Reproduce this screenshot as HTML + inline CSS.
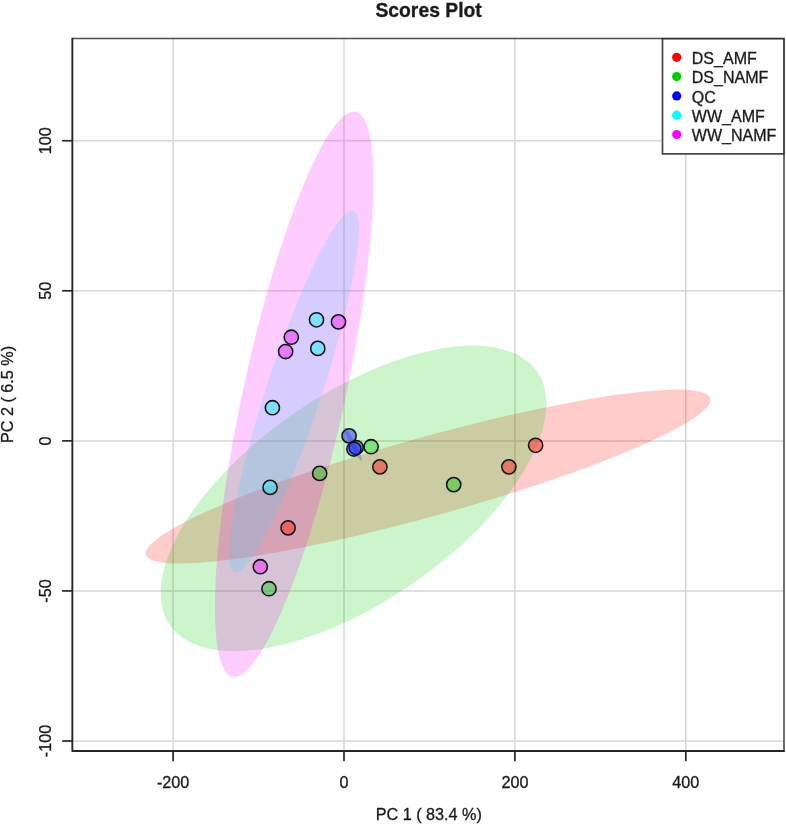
<!DOCTYPE html>
<html><head><meta charset="utf-8"><title>Scores Plot</title>
<style>html,body{margin:0;padding:0;background:#fff;}svg{display:block;}text{font-family:"Liberation Sans",sans-serif;fill:#1a1a1a;stroke:#1a1a1a;stroke-width:0.3px;}svg{will-change:transform;}</style></head><body>
<svg width="786" height="826" viewBox="0 0 786 826">
<rect x="0" y="0" width="786" height="826" fill="#ffffff"/>
<g stroke="#d6d6d6" stroke-width="1.5" fill="none">
<line x1="173.1" y1="38.0" x2="173.1" y2="751.0"/>
<line x1="344.0" y1="38.0" x2="344.0" y2="751.0"/>
<line x1="514.9" y1="38.0" x2="514.9" y2="751.0"/>
<line x1="685.8" y1="38.0" x2="685.8" y2="751.0"/>
<line x1="72.35" y1="140.75" x2="784.0" y2="140.75"/>
<line x1="72.35" y1="290.8" x2="784.0" y2="290.8"/>
<line x1="72.35" y1="440.88" x2="784.0" y2="440.88"/>
<line x1="72.35" y1="590.93" x2="784.0" y2="590.93"/>
<line x1="72.35" y1="741.0" x2="784.0" y2="741.0"/>
</g>
<g stroke="none" fill-opacity="0.2">
<ellipse cx="428.20" cy="476.60" rx="292.73" ry="39.61" fill="#ff0000" transform="rotate(164.51 428.20 476.60)"/>
<ellipse cx="353.50" cy="498.40" rx="223.12" ry="103.81" fill="#00cd00" transform="rotate(145.41 353.50 498.40)"/>
<ellipse cx="353.00" cy="444.30" rx="18.50" ry="2.60" fill="#0000ff" transform="rotate(62.40 353.00 444.30)"/>
<ellipse cx="293.95" cy="391.35" rx="190.24" ry="27.50" fill="#00ffff" transform="rotate(108.18 293.95 391.35)"/>
<ellipse cx="294.15" cy="394.30" rx="289.05" ry="50.90" fill="#ff00ff" transform="rotate(102.33 294.15 394.30)"/>
</g>
<g stroke="#111" stroke-width="1.55" fill-opacity="0.4">
<circle cx="379.9" cy="466.9" r="7.1" fill="#ff0000"/>
<circle cx="508.9" cy="466.85" r="7.1" fill="#ff0000"/>
<circle cx="535.6" cy="445.3" r="7.1" fill="#ff0000"/>
<circle cx="288.1" cy="527.9" r="7.1" fill="#ff0000"/>
<circle cx="371.1" cy="446.7" r="7.1" fill="#00cd00"/>
<circle cx="319.65" cy="473.4" r="7.1" fill="#00cd00"/>
<circle cx="453.7" cy="484.6" r="7.1" fill="#00cd00"/>
<circle cx="269.0" cy="588.7" r="7.1" fill="#00cd00"/>
<circle cx="356.2" cy="447.5" r="7.1" fill="#0000ff"/>
<circle cx="353.9" cy="449.0" r="7.1" fill="#0000ff"/>
<circle cx="349.1" cy="435.9" r="7.1" fill="#0000ff"/>
<circle cx="316.5" cy="319.8" r="7.1" fill="#00ffff"/>
<circle cx="317.8" cy="348.4" r="7.1" fill="#00ffff"/>
<circle cx="272.4" cy="407.7" r="7.1" fill="#00ffff"/>
<circle cx="270.1" cy="487.4" r="7.1" fill="#00ffff"/>
<circle cx="338.5" cy="321.9" r="7.1" fill="#ff00ff"/>
<circle cx="285.6" cy="351.5" r="7.1" fill="#ff00ff"/>
<circle cx="291.3" cy="337.2" r="7.1" fill="#ff00ff"/>
<circle cx="260.3" cy="566.7" r="7.1" fill="#ff00ff"/>
</g>
<rect x="662.5" y="38.5" width="121.5" height="115.30000000000001" fill="#fff" stroke="none"/>
<g fill="none" stroke-linecap="butt">
<path d="M72.35 38.5 H662.5" stroke="#505050" stroke-width="1.7"/>
<path d="M784.0 153.8 V751.0" stroke="#606060" stroke-width="1.8"/>
<path d="M662.5 38.5 V153.8 H784.0" stroke="#484848" stroke-width="1.7" stroke-linejoin="miter"/>
<path d="M661.65 38.5 H784.85 M784.0 38.5 V154.65" stroke="#303030" stroke-width="1.75"/>
<path d="M72.35 37.65 V751.0 H784.9" stroke="#262626" stroke-width="1.9" stroke-linejoin="round"/>
<g stroke="#262626" stroke-width="1.7">
<line x1="173.1" y1="751.0" x2="173.1" y2="761.2"/>
<line x1="344.0" y1="751.0" x2="344.0" y2="761.2"/>
<line x1="514.9" y1="751.0" x2="514.9" y2="761.2"/>
<line x1="685.8" y1="751.0" x2="685.8" y2="761.2"/>
<line x1="72.35" y1="140.75" x2="62.14999999999999" y2="140.75"/>
<line x1="72.35" y1="290.8" x2="62.14999999999999" y2="290.8"/>
<line x1="72.35" y1="440.88" x2="62.14999999999999" y2="440.88"/>
<line x1="72.35" y1="590.93" x2="62.14999999999999" y2="590.93"/>
<line x1="72.35" y1="741.0" x2="62.14999999999999" y2="741.0"/>
</g></g>
<circle cx="676.7" cy="57.3" r="4.6" fill="#ff0000"/>
<text x="691.8" y="63.9" font-size="16.05">DS_AMF</text>
<circle cx="676.7" cy="76.6" r="4.6" fill="#00cd00"/>
<text x="691.8" y="83.2" font-size="16.05">DS_NAMF</text>
<circle cx="676.7" cy="95.9" r="4.6" fill="#0000ff"/>
<text x="691.8" y="102.5" font-size="16.05">QC</text>
<circle cx="676.7" cy="115.2" r="4.6" fill="#00ffff"/>
<text x="691.8" y="121.8" font-size="16.05">WW_AMF</text>
<circle cx="676.7" cy="134.5" r="4.6" fill="#ff00ff"/>
<text x="691.8" y="141.1" font-size="16.05">WW_NAMF</text>
<text x="428.6" y="16.5" font-size="19.35" font-weight="bold" stroke-width="0.1" text-anchor="middle">Scores Plot</text>
<text x="173.1" y="787.5" font-size="16.2" text-anchor="middle">-200</text>
<text x="344.0" y="787.5" font-size="16.2" text-anchor="middle">0</text>
<text x="514.9" y="787.5" font-size="16.2" text-anchor="middle">200</text>
<text x="685.8" y="787.5" font-size="16.2" text-anchor="middle">400</text>
<text transform="translate(51.2 140.75) rotate(-90)" font-size="16.2" text-anchor="middle">100</text>
<text transform="translate(51.2 290.8) rotate(-90)" font-size="16.2" text-anchor="middle">50</text>
<text transform="translate(51.2 440.88) rotate(-90)" font-size="16.2" text-anchor="middle">0</text>
<text transform="translate(51.2 590.93) rotate(-90)" font-size="16.2" text-anchor="middle">-50</text>
<text transform="translate(51.2 741.0) rotate(-90)" font-size="16.2" text-anchor="middle">-100</text>
<text x="428.75" y="819.7" font-size="16.2" text-anchor="middle">PC 1 ( 83.4 %)</text>
<text transform="translate(12.7 394.5) rotate(-90)" font-size="16.2" text-anchor="middle">PC 2 ( 6.5 %)</text>
</svg></body></html>
